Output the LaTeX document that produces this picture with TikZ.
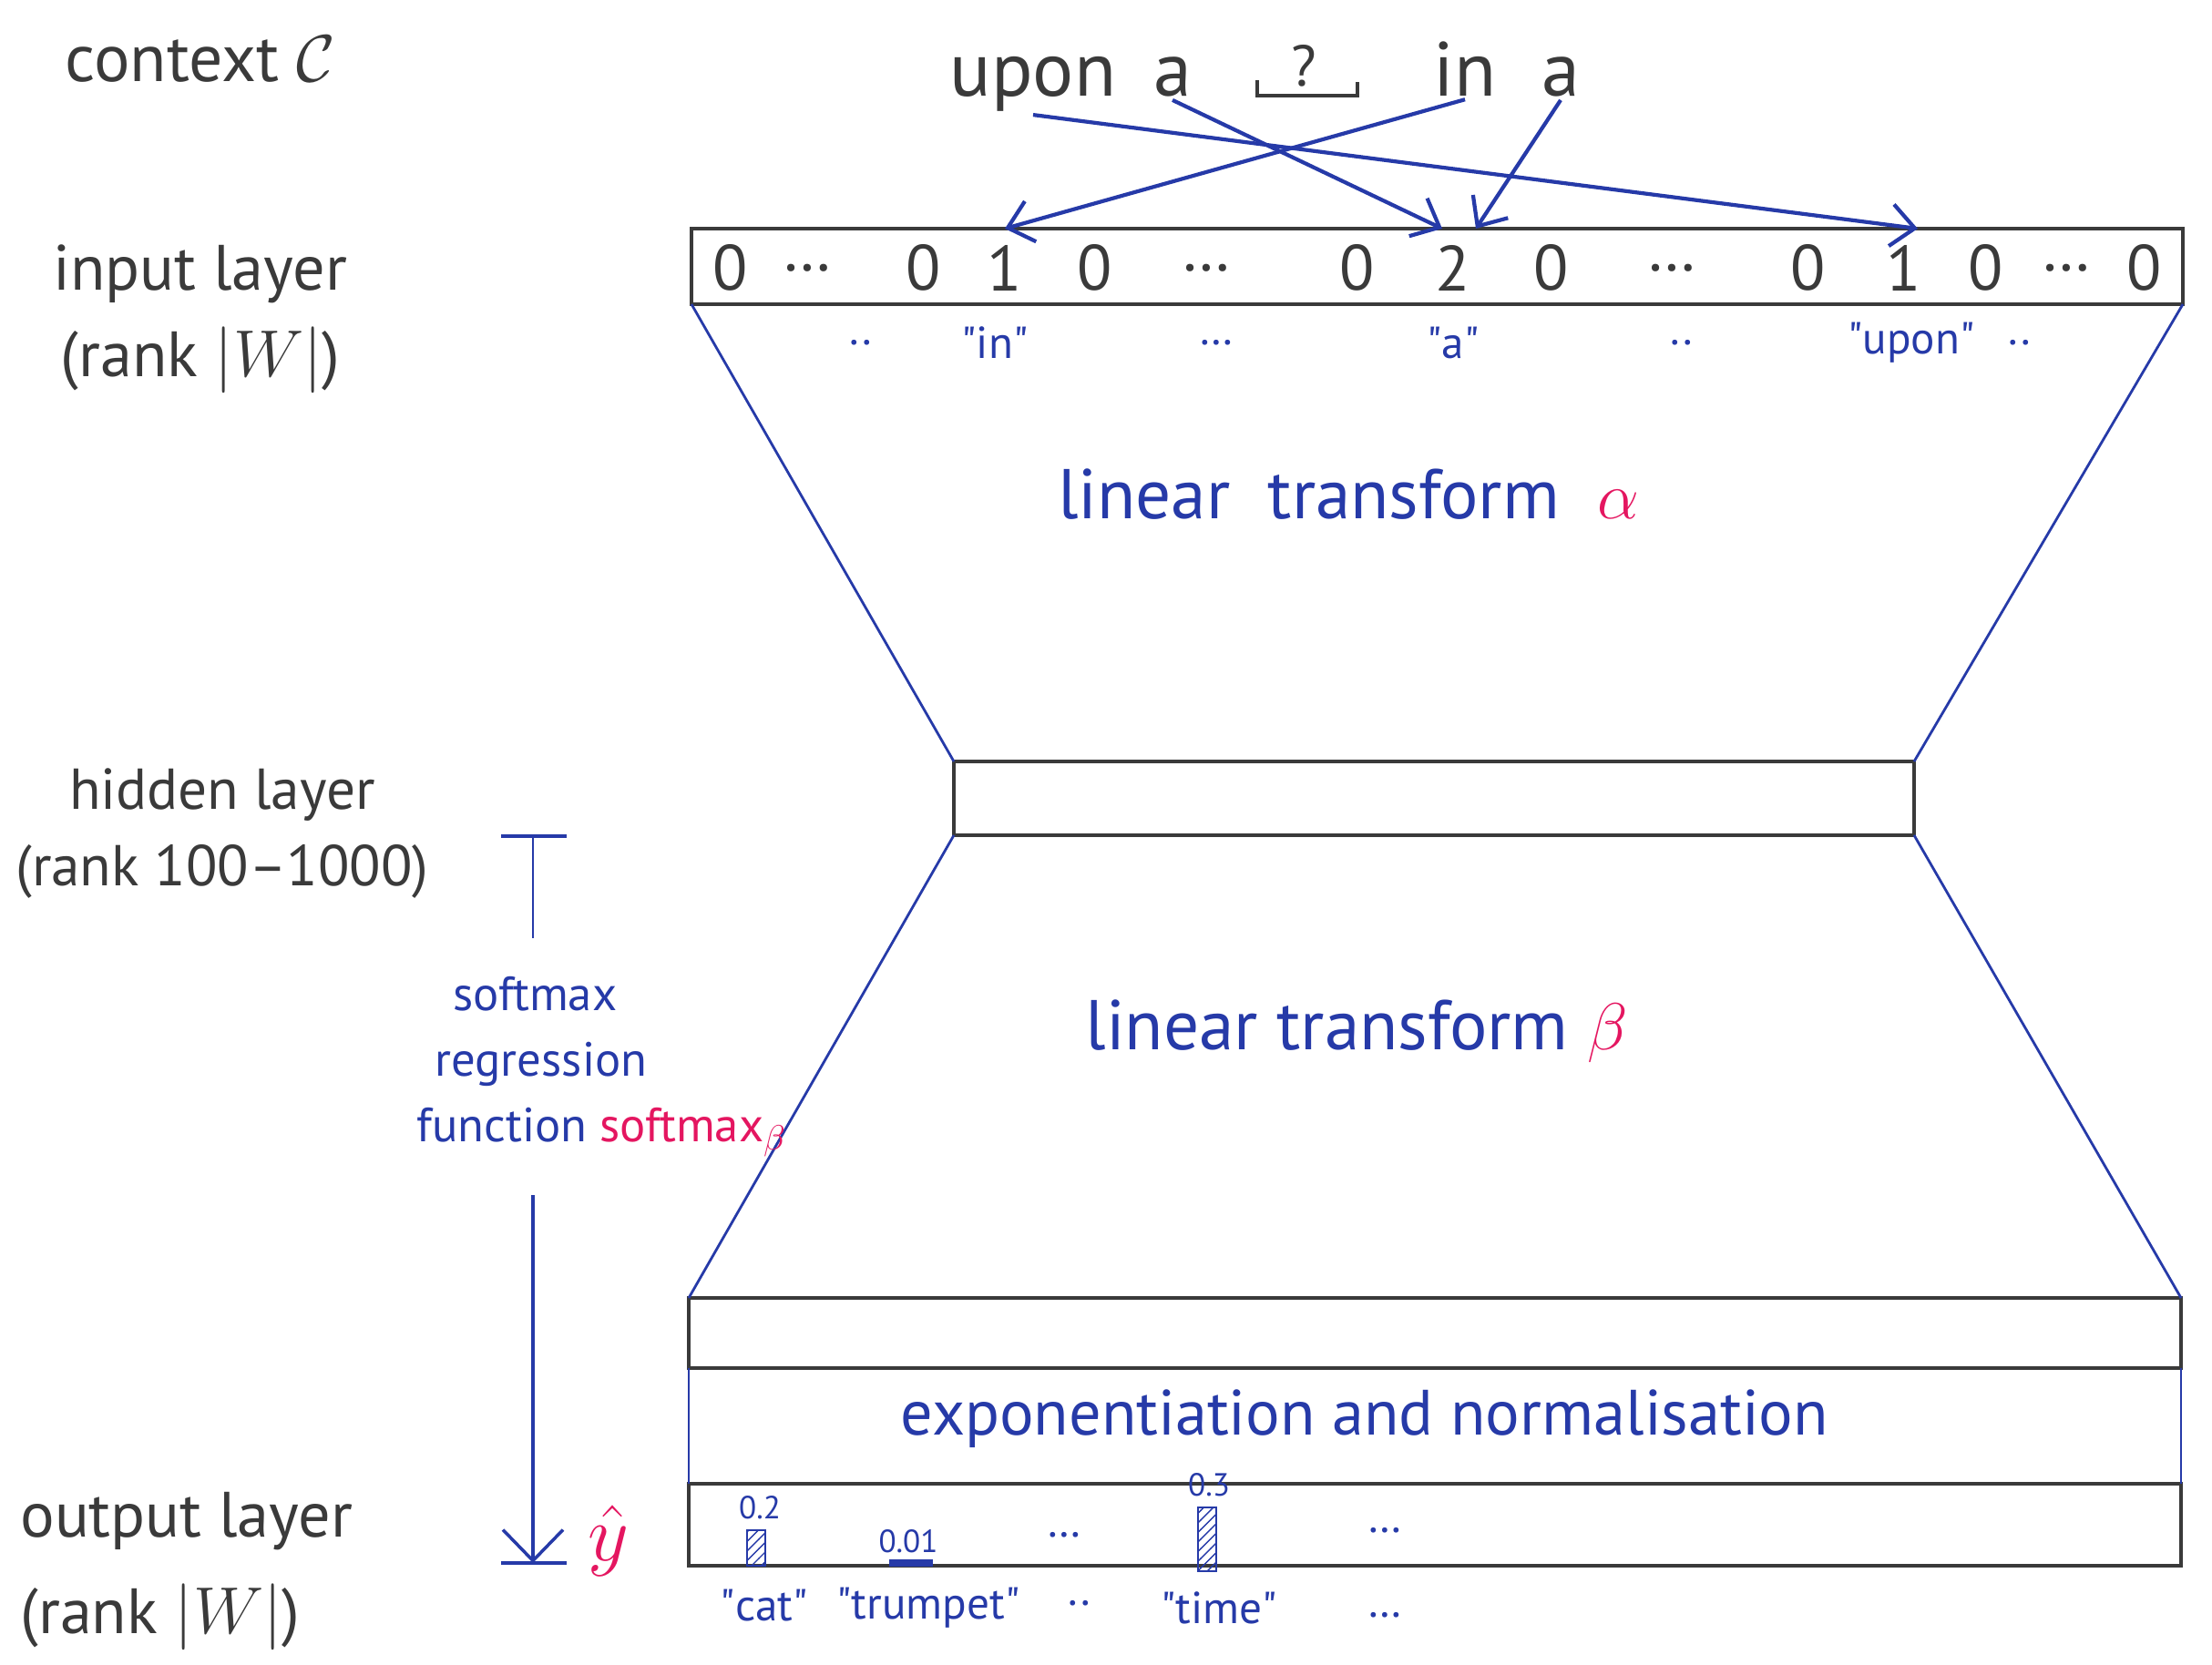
\documentclass[tikz,border=0pt]{standalone}
\usepackage{fontspec}
\setmainfont{PT Sans}
\usetikzlibrary{arrows.meta,patterns}
\definecolor{pen}{RGB}{38,58,168}
\definecolor{hot}{RGB}{228,22,96}
\definecolor{lead}{RGB}{58,58,58}
\begin{document}
\begin{tikzpicture}[every node/.style={font=\fontsize{20}{24}\selectfont, text=lead},
  layer/.style={draw=lead, line width=1.2pt, inner sep=0pt, outer sep=0pt},
  word/.style={font=\fontsize{24}{28}\selectfont, anchor=base, inner sep=1pt},
  tag/.style={font=\fontsize{14}{16}\selectfont, text=pen},
  prob/.style={font=\fontsize{10}{12}\selectfont, text=pen},
  side/.style={pen, line width=0.8pt},
  ptr/.style={pen, line width=1.2pt, -{Straight Barb[length=2.6mm,width=4.6mm]}},
  bar/.style={draw=pen, line width=0.8pt, inner sep=0pt, minimum width=0.2cm,
    pattern=north east lines, pattern color=pen}]
  \useasboundingbox (0,0) rectangle (24.28,-18.27);
  % left-hand labels
  \node[font=\fontsize{21}{24}\selectfont] (ctx) at (2.2,-0.65) {context $\mathcal{C}$};
  \node[align=center, font=\fontsize{20}{27}\selectfont] (inlbl) at (2.2,-3.5) {input layer\\(rank $|W|$)};
  \node[align=center, font=\fontsize{18}{24}\selectfont] (hidlbl) at (2.44,-9.15) {hidden layer\\(rank 100--1000)};
  \node[align=left, anchor=west, font=\fontsize{20}{30}\selectfont] (outlbl) at (0.1,-17.25) {output layer\\(rank $|W|$)};
  % context words
  \node[word] (upon) at (11.34,-1.05) {upon};
  \node[word] (a1) at (12.87,-1.05) {a};
  \node[font=\fontsize{18}{20}\selectfont] (q) at (14.31,-0.72) {?};
  \node[word] (in) at (16.08,-1.05) {in};
  \node[word] (a2) at (17.13,-1.05) {a};
  \draw[lead, line width=1.2pt] (13.80,-0.88) -- (13.80,-1.05) -- (14.90,-1.05) -- (14.90,-0.90);
  % layers
  \node[layer, minimum width=16.37cm, minimum height=0.83cm] (inbox) at (15.775,-2.925) {};
  \node[layer, minimum width=10.54cm, minimum height=0.81cm] (hid) at (15.74,-8.765) {};
  \node[layer, minimum width=16.38cm, minimum height=0.77cm] (logit) at (15.75,-14.635) {};
  \node[layer, minimum width=16.38cm, minimum height=0.90cm] (out) at (15.75,-16.74) {};
  % one-hot input vector
  \node (z1) at (8.02,-2.94) {0};
  \node (d1) at (8.86,-2.94) {\dots};
  \node (z2) at (10.14,-2.94) {0};
  \node (one1) at (11.03,-2.94) {1};
  \node (z3) at (12.02,-2.94) {0};
  \node (d2) at (13.24,-2.94) {\dots};
  \node (z4) at (14.90,-2.94) {0};
  \node (two) at (15.95,-2.94) {2};
  \node (z5) at (17.03,-2.94) {0};
  \node (d3) at (18.35,-2.94) {\dots};
  \node (z6) at (19.85,-2.94) {0};
  \node (one2) at (20.90,-2.94) {1};
  \node (z7) at (21.80,-2.94) {0};
  \node (d4) at (22.68,-2.94) {\dots};
  \node (z8) at (23.54,-2.94) {0};
  \node[tag] (t1) at (9.45,-3.76) {..};
  \node[tag] (win) at (10.92,-3.76) {\textquotedbl in\textquotedbl};
  \node[tag] (t2) at (13.35,-3.76) {\dots};
  \node[tag] (wa) at (15.95,-3.76) {\textquotedbl a\textquotedbl};
  \node[tag] (t3) at (18.46,-3.76) {..};
  \node[tag] (wupon) at (20.98,-3.76) {\textquotedbl upon\textquotedbl};
  \node[tag] (t4) at (22.17,-3.76) {..};
  \draw[ptr] (upon.south) -- ([xshift=1.5mm]inbox.north -| one2);
  \draw[ptr] (a1.south) -- ([xshift=-1.2mm]inbox.north -| two);
  \draw[ptr] (in.south) -- (inbox.north -| one1);
  \draw[ptr] (a2.south) -- ([xshift=2.5mm]inbox.north -| two);
  % the two funnels
  \draw[side] (inbox.south west) -- (hid.north west);
  \draw[side] (inbox.south east) -- (hid.north east);
  \draw[side] (hid.south west) -- (logit.north west);
  \draw[side] (hid.south east) -- (logit.north east);
  \draw[side] (logit.south west) -- (out.north west);
  \draw[side] (logit.south east) -- (out.north east);
  \node[text=pen, font=\fontsize{22}{26}\selectfont] (alpha) at (14.80,-5.43) {linear\ \ transform\ \ \textcolor{hot}{$\alpha$}};
  \node[text=pen, font=\fontsize{22}{26}\selectfont] (beta) at (14.89,-11.32) {linear transform \textcolor{hot}{$\beta$}};
  \node[text=pen, font=\fontsize{20}{24}\selectfont] (expn) at (14.98,-15.58) {exponentiation and normalisation};
  % softmax bracket
  \coordinate (ttop) at (5.85,-9.18);
  \coordinate (tfoot) at (5.85,-10.30);
  \coordinate (ahead) at (5.85,-17.16);
  \draw[side, line width=1pt] ([xshift=-3.5mm]ttop) -- ([xshift=3.7mm]ttop);
  \draw[side] (ttop) -- (tfoot);
  \node[align=left, anchor=north west, text=pen, font=\fontsize{15}{20.4}\selectfont] (sm) at (4.45,-10.6)
    {\hspace{4mm}softmax\\\hspace{2mm}regression\\function \textcolor{hot}{softmax$_\beta$}};
  \draw[side, line width=1pt, -{Straight Barb[length=3.4mm,width=6.6mm]}] ([yshift=-3mm]sm.south -| ahead) -- (ahead);
  \draw[side, line width=1.2pt] ([xshift=-3.5mm]ahead) -- ([xshift=3.7mm]ahead);
  \node[text=hot, font=\fontsize{24}{28}\selectfont] (yhat) at (6.68,-16.92) {$\hat{y}$};
  % output distribution
  \node[bar, minimum height=0.39cm] (catbar) at (8.30,-16.995) {};
  \node[bar, minimum height=0.70cm] (timebar) at (13.25,-16.90) {};
  \node[bar, minimum width=0.45cm, minimum height=0.06cm, fill=pen] (tbar) at (10.0,-17.16) {};
  \node[prob] (p1) at (8.34,-16.55) {0.2};
  \node[prob] (p2) at (9.97,-16.92) {0.01};
  \node[prob] (p3) at (13.27,-16.30) {0.3};
  \node[tag] (e1) at (11.68,-16.85) {\dots};
  \node[tag] (e2) at (15.2,-16.80) {\dots};
  \node[tag] (wcat) at (8.39,-17.63) {\textquotedbl cat\textquotedbl};
  \node[tag] (wtrumpet) at (10.19,-17.65) {\textquotedbl trumpet\textquotedbl};
  \node[tag] (e3) at (11.85,-17.60) {..};
  \node[tag] (wtime) at (13.38,-17.65) {\textquotedbl time\textquotedbl};
  \node[tag] (e4) at (15.2,-17.73) {\dots};
\end{tikzpicture}
\end{document}
